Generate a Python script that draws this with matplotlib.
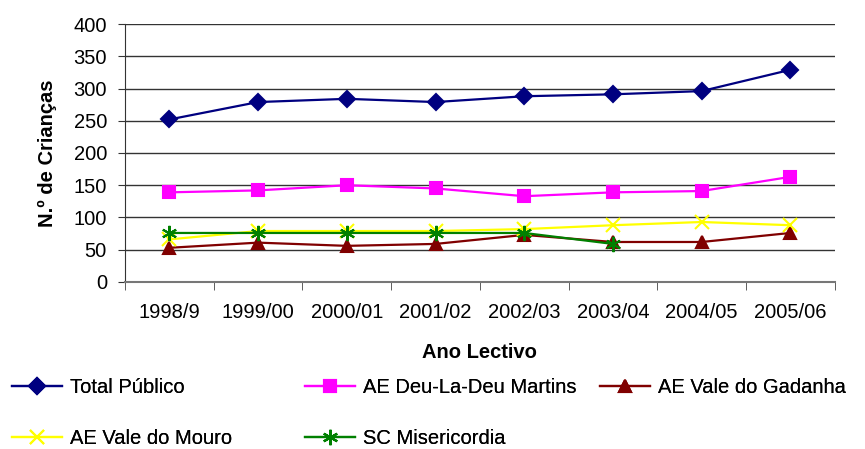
import matplotlib.pyplot as plt
from matplotlib.ticker import FixedLocator

plt.rcParams['font.family'] = ['Liberation Sans', 'DejaVu Sans']

anos = ["1998/9", "1999/00", "2000/01", "2001/02", "2002/03", "2003/04", "2004/05", "2005/06"]

total_publico = [252, 279, 284, 279, 288, 291, 296, 329]
deu_la_deu = [139, 142, 150, 145, 133, 139, 141, 163]
vale_gadanha = [53, 61, 56, 59, 73, 62, 62, 76]
vale_mouro = [66, 79, 79, 79, 82, 88, 93, 88]
misericordia = [76, 76, 76, 76, 76, 59]

series = [
    ("Total Público", total_publico, "#000080", "D", 8, 1.6),
    ("AE Deu-La-Deu Martins", deu_la_deu, "#FF00FF", "s", 8, 1.6),
    ("AE Vale do Gadanha", vale_gadanha, "#800000", "^", 9, 1.6),
    ("AE Vale do Mouro", vale_mouro, "#FFFF00", "x", 10, 1.6),
    ("SC Misericordia", misericordia, "#008000", (6, 2, 0), 11, 1.6),
]

fs = 14.5

fig = plt.figure(figsize=(8.65, 4.49), dpi=100)
ax = fig.add_axes([0.1445, 0.372, 0.8205, 0.5745])

linhas = {}
for nome, valores, cor, marc, ms, lw in series:
    x = list(range(len(valores)))
    ln, = ax.plot(x, valores, color=cor, marker=marc, markersize=ms, linewidth=lw,
                  markeredgewidth=1.5, label=nome, zorder=3)
    linhas[nome] = ln

ax.set_xlim(-0.5, len(anos) - 0.5)
ax.set_ylim(0, 400)
ax.set_yticks(range(0, 401, 50))
ax.set_xticks(range(len(anos)))
ax.set_xticklabels(anos)
ax.xaxis.set_minor_locator(FixedLocator([i - 0.5 for i in range(len(anos) + 1)]))
ax.tick_params(axis="x", which="major", length=0, pad=15, labelsize=fs)
ax.tick_params(axis="x", which="minor", length=6, color="#444444")
ax.tick_params(axis="y", labelsize=fs, length=5, pad=8, color="#333333")

ax.grid(axis="y", color="#333333", linewidth=1)
ax.set_axisbelow(True)
for s in ["top", "right"]:
    ax.spines[s].set_visible(False)
ax.spines["left"].set_color("#333333")
ax.spines["bottom"].set_color("#777777")
ax.spines["bottom"].set_linewidth(1.5)

ax.set_xlabel("Ano Lectivo", fontsize=fs, fontweight="bold", labelpad=15)
ax.set_ylabel("N.º de Crianças", fontsize=fs, fontweight="bold", labelpad=12)

# legenda em tres colunas, como no Excel
colunas = [
    (["Total Público", "AE Vale do Mouro"], 0.0139),
    (["AE Deu-La-Deu Martins", "SC Misericordia"], 0.3526),
    (["AE Vale do Gadanha"], 0.6936),
]
for nomes, x0 in colunas:
    leg = fig.legend([linhas[n] for n in nomes], nomes, loc="upper left",
                     bbox_to_anchor=(x0, 0.158), frameon=False, fontsize=fs,
                     handlelength=2.5, handletextpad=0.4, labelspacing=1.6,
                     borderaxespad=0, borderpad=0)
    fig.add_artist(leg)

fig.savefig("out.png", dpi=100)
